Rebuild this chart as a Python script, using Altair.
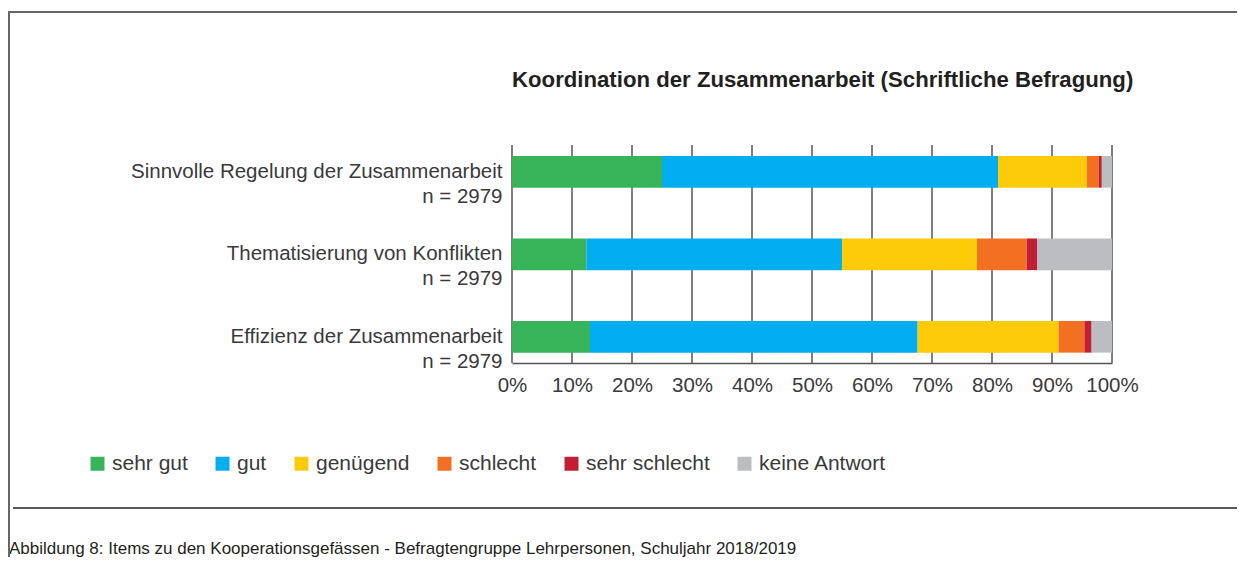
import altair as alt
import pandas as pd

# ---- data ----
items = [
    "Sinnvolle Regelung der Zusammenarbeit",
    "Thematisierung von Konflikten",
    "Effizienz der Zusammenarbeit",
]
n_labels = ["n = 2979", "n = 2979", "n = 2979"]
categories = ["sehr gut", "gut", "genügend", "schlecht", "sehr schlecht", "keine Antwort"]
colors = ["#37b45a", "#02aeef", "#fecb0a", "#f37022", "#c11f33", "#bcbdc0"]

sehr_gut = [25.0, 12.4, 13.0]
gut = [56.0, 42.6, 54.6]
genuegend = [14.8, 22.5, 23.5]
schlecht = [2.0, 8.3, 4.3]
sehr_schlecht = [0.5, 1.7, 1.2]
keine_antwort = [1.7, 12.5, 3.4]

x_ticks = [0, 0.1, 0.2, 0.3, 0.4, 0.5, 0.6, 0.7, 0.8, 0.9, 1.0]

title_text = "Koordination der Zusammenarbeit (Schriftliche Befragung)"
caption_text = ("Abbildung 8: Items zu den Kooperationsgefässen - Befragtengruppe "
                "Lehrpersonen, Schuljahr 2018/2019")

# ---- build tables ----
series = [sehr_gut, gut, genuegend, schlecht, sehr_schlecht, keine_antwort]
item_labels = [f"{a}\n{b}" for a, b in zip(items, n_labels)]
rows = []
for ci, (cat, vals) in enumerate(zip(categories, series)):
    for ii, lab in enumerate(item_labels):
        rows.append({"item": lab, "cat": cat, "ord": ci, "pct": vals[ii] / 100.0})
df = pd.DataFrame(rows)
ticks_df = pd.DataFrame({"tick": x_ticks})

FONT = "Liberation Sans"
TEXT = "#3a3a3a"
H = 218

x_scale = alt.Scale(domain=[0, 1], nice=False)

grid = alt.Chart(ticks_df).mark_rule(color="#555555", strokeWidth=1.5).encode(
    x=alt.X("tick:Q", scale=x_scale),
    y=alt.value(0),
    y2=alt.value(H),
)

bars = alt.Chart(df).mark_bar().encode(
    x=alt.X(
        "pct:Q",
        stack="zero",
        scale=x_scale,
        axis=alt.Axis(
            format="%", values=x_ticks, title=None, ticks=False, grid=False,
            domain=True, domainColor="#555555", domainWidth=1.5,
            labelPadding=12, labelFontSize=20.5, labelColor=TEXT, labelFont=FONT,
            labelFlush=False, labelOverlap=False,
        ),
    ),
    y=alt.Y(
        "item:N",
        sort=item_labels,
        scale=alt.Scale(range=[-14.45, 233.05], paddingInner=0.616, paddingOuter=0.308),
        axis=alt.Axis(
            title=None, ticks=False, domain=False, grid=False,
            labelExpr="split(datum.label, '\\n')",
            labelPadding=10, labelFontSize=20.5, labelColor=TEXT, labelFont=FONT,
            labelLineHeight=25, labelAlign="right", labelBaseline="middle",
            labelLimit=600,
        ),
    ),
    color=alt.Color(
        "cat:N",
        scale=alt.Scale(domain=categories, range=colors),
        legend=alt.Legend(
            title=None, orient="none", legendX=-425, legendY=308,
            direction="horizontal", symbolType="square", symbolSize=196,
            symbolStrokeWidth=0, labelFontSize=21, labelFont=FONT,
            labelColor=TEXT, labelOffset=4, columnPadding=24,
        ),
    ),
    order=alt.Order("ord:Q"),
)

one = pd.DataFrame({"t": [title_text], "c": [caption_text]})

title = alt.Chart(one).mark_text(
    align="left", baseline="middle", fontSize=22.2, fontWeight="bold",
    font=FONT, color="#231f20",
).encode(text="t:N", x=alt.value(0), y=alt.value(-65))

caption = alt.Chart(one).mark_text(
    align="left", baseline="middle", fontSize=17, font=FONT, color="#231f20",
).encode(text="c:N", x=alt.value(-503), y=alt.value(404))

frame_top = alt.Chart(one).mark_rule(color="#666666", strokeWidth=2).encode(
    x=alt.value(-504), x2=alt.value(733), y=alt.value(-133))
frame_left = alt.Chart(one).mark_rule(color="#666666", strokeWidth=2).encode(
    x=alt.value(-503), y=alt.value(-134), y2=alt.value(420))
sep_line = alt.Chart(one).mark_rule(color="#222222", strokeWidth=1.5).encode(
    x=alt.value(-499), x2=alt.value(725), y=alt.value(363))

chart = alt.layer(grid, bars, title, caption, frame_top, frame_left, sep_line).properties(
    width=600,
    height=H,
    autosize=alt.AutoSizeParams(type="none"),
    padding={"left": 504, "top": 137, "right": 125, "bottom": 194},
).configure_view(stroke=None)

chart.save("out.html", embed_options={"renderer": "svg", "actions": False})
